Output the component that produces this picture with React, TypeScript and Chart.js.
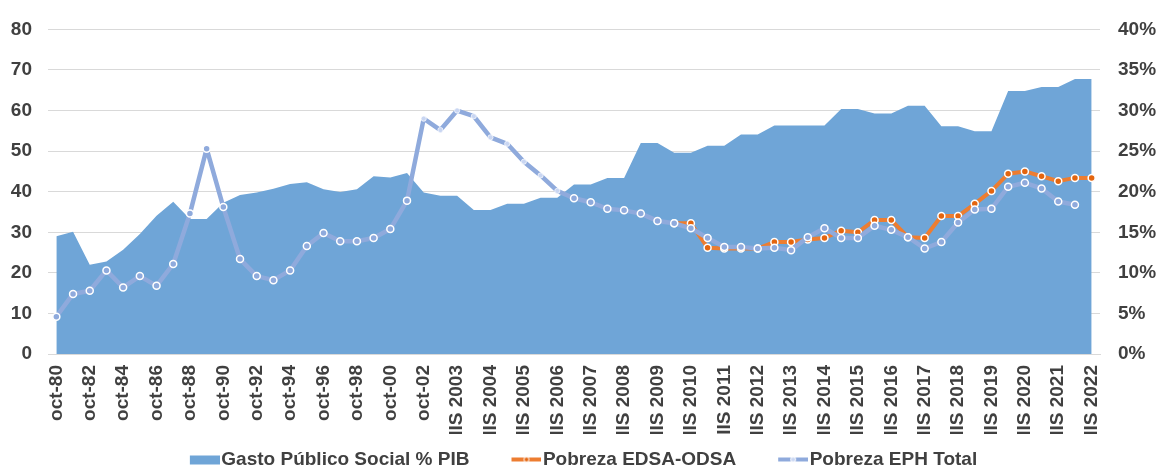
import React, { useEffect, useRef } from 'react';
import { Chart, registerables } from 'chart.js';

Chart.register(...registerables);

// ---------- DATA ----------
const categories: string[] = [
  'oct-80', 'oct-81', 'oct-82', 'oct-83', 'oct-84', 'oct-85', 'oct-86', 'oct-87', 'oct-88', 'oct-89',
  'oct-90', 'oct-91', 'oct-92', 'oct-93', 'oct-94', 'oct-95', 'oct-96', 'oct-97', 'oct-98', 'oct-99',
  'oct-00', 'oct-01', 'oct-02',
  'IS 2003', 'IIS 2003', 'IS 2004', 'IIS 2004', 'IS 2005', 'IIS 2005', 'IS 2006', 'IIS 2006',
  'IS 2007', 'IIS 2007', 'IS 2008', 'IIS 2008', 'IS 2009', 'IIS 2009', 'IS 2010', 'IIS 2010',
  'IS 2011', 'IIS 2011', 'IS 2012', 'IIS 2012', 'IS 2013', 'IIS 2013', 'IS 2014', 'IIS 2014',
  'IS 2015', 'IIS 2015', 'IS 2016', 'IIS 2016', 'IS 2017', 'IIS 2017', 'IS 2018', 'IIS 2018',
  'IS 2019', 'IIS 2019', 'IS 2020', 'IIS 2020', 'IS 2021', 'IIS 2021', 'IS 2022', 'IIS 2022',
];

// Gasto Público Social % PIB (left axis)
const gastoSocial: number[] = [
  29.0, 30.1, 22.0, 22.8, 25.7, 29.6, 34.1, 37.5, 33.3, 33.3,
  37.3, 39.2, 39.8, 40.7, 41.9, 42.3, 40.6, 39.9, 40.6, 43.8,
  43.5, 44.6, 39.8, 39.0, 39.0, 35.5, 35.5, 37.0, 37.0, 38.5,
  38.5, 41.8, 41.8, 43.4, 43.4, 52.0, 52.0, 49.6, 49.6, 51.3,
  51.3, 54.1, 54.1, 56.3, 56.3, 56.3, 56.3, 60.4, 60.4, 59.3,
  59.3, 61.2, 61.2, 56.1, 56.1, 54.9, 54.9, 64.8, 64.8, 65.8,
  65.8, 67.8, 67.8,
];

// Pobreza EDSA-ODSA (right axis, %)
const pobrezaEDSA: (number | null)[] = [
  null, null, null, null, null, null, null, null, null, null,
  null, null, null, null, null, null, null, null, null, null,
  null, null, null, null, null, null, null, null, null, null,
  null, null, null, null, null, null, null, 16.1, 16.1, 13.1,
  13.0, 13.0, 13.0, 13.8, 13.8, 14.1, 14.3, 15.2, 15.0, 16.5,
  16.5, 14.4, 14.3, 17.0, 17.0, 18.5, 20.1, 22.2, 22.5, 21.9,
  21.3, 21.7, 21.7,
];

// Pobreza EPH Total (right axis, %)
const pobrezaEPH: (number | null)[] = [
  4.6, 7.4, 7.8, 10.3, 8.2, 9.6, 8.4, 11.1, 17.3, 25.3,
  18.1, 11.7, 9.6, 9.1, 10.3, 13.3, 14.9, 13.9, 13.9, 14.3,
  15.4, 18.9, 29.0, 27.6, 30.0, 29.3, 26.7, 25.9, 23.7, 22.0,
  20.1, 19.2, 18.7, 17.9, 17.7, 17.3, 16.4, 16.1, 15.5, 14.3,
  13.2, 13.2, 13.0, 13.1, 12.8, 14.4, 15.5, 14.3, 14.3, 15.8,
  15.3, 14.4, 13.0, 13.8, 16.2, 17.8, 17.9, 20.6, 21.1, 20.4,
  18.8, 18.4, null,
];

const seriesLabels = ['Gasto Público Social % PIB', 'Pobreza EDSA-ODSA', 'Pobreza EPH Total'];

// ---------- STYLE ----------
const FONT = "'Liberation Sans', Arial, sans-serif";
const TEXT = '#404040';
const AREA = '#6FA5D7';
const ORANGE = '#ED7D31';
const ORANGE_DOT = '#E4650F';
const LAVENDER = '#8FAADC';

const ICON_LEAD = 26; // empty room before each legend icon
const ICON_W = 30;
const BOX_W = 48;

function iconCanvas(): [HTMLCanvasElement, CanvasRenderingContext2D, number] {
  const c = document.createElement('canvas');
  const half = ICON_LEAD + ICON_W - BOX_W / 2;
  c.width = half * 2;
  c.height = 12;
  const g = c.getContext('2d')!;
  const x0 = half - BOX_W / 2 + ICON_LEAD;
  return [c, g, x0];
}

function rectIcon(color: string): HTMLCanvasElement {
  const [c, g, x0] = iconCanvas();
  g.fillStyle = color;
  g.fillRect(x0, 2, ICON_W, 9);
  return c;
}

function lineIcon(color: string, dot: string): HTMLCanvasElement {
  const [c, g, x0] = iconCanvas();
  g.strokeStyle = color;
  g.lineWidth = 4;
  g.beginPath();
  g.moveTo(x0, 6);
  g.lineTo(x0 + ICON_W, 6);
  g.stroke();
  g.beginPath();
  g.arc(x0 + ICON_W / 2, 6, 2.5, 0, Math.PI * 2);
  g.fillStyle = dot;
  g.fill();
  g.lineWidth = 1;
  g.strokeStyle = '#ffffff';
  g.stroke();
  return c;
}

// nudges the centred legend row a little to the left, as in the reference
const legendShift = {
  id: 'legendShift',
  afterLayout(chart: any) {
    if (chart.legend) {
      chart.legend.left -= 13;
      chart.legend.right -= 13;
    }
  },
};

export default function App() {
  const ref = useRef<HTMLCanvasElement>(null);

  useEffect(() => {
    document.body.style.margin = '0';
    const canvas = ref.current;
    if (!canvas) return;
    const icons = [rectIcon(AREA), lineIcon(ORANGE, ORANGE_DOT), lineIcon(LAVENDER, '#C9D6F2')];
    const inSpecial = (i: number) => i >= 22 && i <= 30;

    const chart = new Chart(canvas, {
      type: 'line',
      plugins: [legendShift],
      data: {
        labels: categories,
        datasets: [
          {
            label: seriesLabels[0],
            data: gastoSocial,
            yAxisID: 'y',
            fill: 'origin',
            backgroundColor: AREA,
            borderColor: 'rgba(0,0,0,0)',
            borderWidth: 0,
            pointRadius: 0,
            tension: 0,
            order: 3,
          },
          {
            label: seriesLabels[1],
            data: pobrezaEDSA,
            yAxisID: 'y1',
            fill: false,
            borderColor: ORANGE,
            borderWidth: 4,
            borderJoinStyle: 'round',
            borderCapStyle: 'round',
            pointRadius: 3.5,
            pointBackgroundColor: ORANGE_DOT,
            pointBorderColor: '#ffffff',
            pointBorderWidth: 1.5,
            tension: 0,
            order: 2,
          },
          {
            label: seriesLabels[2],
            data: pobrezaEPH,
            yAxisID: 'y1',
            fill: false,
            borderColor: LAVENDER,
            borderWidth: 4.5,
            borderJoinStyle: 'round',
            borderCapStyle: 'round',
            pointRadius: (ctx: any) => (inSpecial(ctx.dataIndex) ? 2.6 : 3.5),
            pointBackgroundColor: (ctx: any) => (inSpecial(ctx.dataIndex) ? '#C9D6F2' : LAVENDER),
            pointBorderColor: (ctx: any) => (inSpecial(ctx.dataIndex) ? 'rgba(255,255,255,0.7)' : '#ffffff'),
            pointBorderWidth: (ctx: any) => (inSpecial(ctx.dataIndex) ? 1 : 1.5),
            tension: 0,
            order: 1,
          },
        ],
      },
      options: {
        responsive: false,
        maintainAspectRatio: false,
        animation: false,
        devicePixelRatio: 1,
        layout: { padding: { left: 11, right: 3, top: 24, bottom: 0 } },
        scales: {
          x: {
            type: 'category',
            offset: true,
            grid: { display: false },
            border: { display: true, color: '#D9D9D9', width: 1 },
            ticks: {
              autoSkip: false,
              maxRotation: 90,
              minRotation: 90,
              padding: 3,
              color: TEXT,
              font: { family: FONT, size: 19, weight: 'bold' },
              callback: (_v: any, i: number) => (i % 2 === 0 ? categories[i] : ''),
            },
            afterFit: (s: any) => {
              s.height = 80;
            },
          },
          y: {
            position: 'left',
            min: 0,
            max: 80,
            ticks: {
              stepSize: 10,
              padding: 16,
              color: TEXT,
              font: { family: FONT, size: 19, weight: 'bold' },
            },
            grid: { color: '#D9D9D9', lineWidth: 1, drawTicks: false },
            border: { display: false },
            afterFit: (s: any) => {
              s.width = 37;
            },
          },
          y1: {
            position: 'right',
            min: 0,
            max: 40,
            ticks: {
              stepSize: 5,
              padding: 18,
              color: TEXT,
              font: { family: FONT, size: 19, weight: 'bold' },
              callback: (v: any) => `${v}%`,
            },
            grid: { display: false, drawTicks: false },
            border: { display: false },
            afterFit: (s: any) => {
              s.width = 56;
            },
          },
        },
        plugins: {
          tooltip: { enabled: false },
          legend: {
            display: true,
            position: 'bottom',
            maxHeight: 34,
            labels: {
              usePointStyle: true,
              pointStyleWidth: BOX_W,
              padding: 16,
              color: TEXT,
              font: { family: FONT, size: 19, weight: 'bold' },
              generateLabels: (ch: any) =>
                ch.data.datasets.map((ds: any, i: number) => ({
                  text: ds.label,
                  datasetIndex: i,
                  pointStyle: icons[i],
                  fillStyle: 'rgba(0,0,0,0)',
                  strokeStyle: 'rgba(0,0,0,0)',
                  lineWidth: 0,
                  hidden: false,
                  fontColor: TEXT,
                })),
            },
          },
        },
      },
    } as any);

    return () => chart.destroy();
  }, []);

  return (
    <div style={{ width: 1159, height: 468 }}>
      <canvas ref={ref} width={1159} height={468} style={{ display: 'block' }} />
    </div>
  );
}
